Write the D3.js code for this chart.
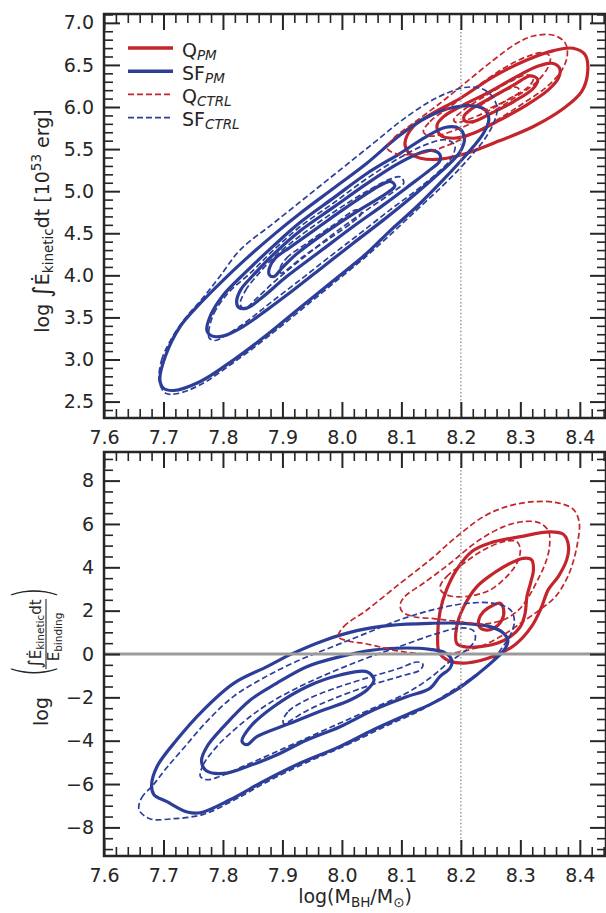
<!DOCTYPE html>
<html>
<head>
<meta charset="utf-8">
<script src="https://cdn.jsdelivr.net/npm/d3@7/dist/d3.min.js"></script>
<style>
  html, body { margin: 0; padding: 0; background: #fff; }
  svg { display: block; font-family: "DejaVu Sans", sans-serif; }
</style>
</head>
<body>
<svg id="fig" width="606" height="913"></svg>
<script>
// ---- axis ranges and ticks ----
const massDomain = [7.6, 8.444];
const massTicks = [7.6, 7.7, 7.8, 7.9, 8.0, 8.1, 8.2, 8.3, 8.4];
const energyDomain = [2.305, 7.105];
const energyTicks = [2.5, 3.0, 3.5, 4.0, 4.5, 5.0, 5.5, 6.0, 6.5, 7.0];
const ratioDomain = [-9.32, 9.32];
const ratioTicks = [-8, -6, -4, -2, 0, 2, 4, 6, 8];
const massSplit = 8.2;
const ratioReference = 0;

// legend entries: [name, subscript]
const sampleNames = [["Q", "PM"], ["SF", "PM"], ["Q", "CTRL"], ["SF", "CTRL"]];

// ---- density contour rings, points are [log M_BH, value] ----
// upper panel: log of integrated kinetic energy
const energyQPM = [
  [[8.106,5.570],[8.120,5.768],[8.148,5.906],[8.199,6.104],[8.255,6.361],[8.311,6.559],[8.356,6.670],[8.389,6.698],[8.409,6.619],[8.413,6.401],[8.403,6.183],[8.373,5.985],[8.322,5.768],[8.266,5.601],[8.210,5.451],[8.165,5.380],[8.132,5.392],[8.112,5.459]],
  [[8.160,5.787],[8.171,5.886],[8.199,6.005],[8.244,6.164],[8.289,6.342],[8.328,6.480],[8.353,6.520],[8.366,6.460],[8.364,6.342],[8.347,6.203],[8.311,6.025],[8.266,5.847],[8.221,5.688],[8.188,5.629],[8.165,5.669]],
  [[8.205,5.886],[8.216,5.966],[8.249,6.104],[8.289,6.262],[8.317,6.369],[8.329,6.330],[8.322,6.223],[8.289,6.065],[8.249,5.918],[8.221,5.827],[8.207,5.835]]
];
const energySFPM = [
  [[7.694,2.759],[7.703,3.036],[7.728,3.392],[7.762,3.669],[7.801,3.947],[7.840,4.204],[7.885,4.481],[7.930,4.738],[7.986,5.035],[8.042,5.332],[8.098,5.669],[8.143,5.878],[8.188,5.997],[8.221,6.013],[8.241,5.966],[8.247,5.847],[8.238,5.688],[8.221,5.530],[8.199,5.352],[8.165,5.095],[8.126,4.818],[8.081,4.529],[8.042,4.263],[7.986,3.939],[7.930,3.618],[7.874,3.293],[7.818,2.996],[7.762,2.739],[7.717,2.632],[7.700,2.660]],
  [[7.773,3.345],[7.779,3.520],[7.800,3.760],[7.840,4.050],[7.885,4.350],[7.930,4.630],[7.986,4.920],[8.042,5.210],[8.098,5.450],[8.140,5.640],[8.175,5.760],[8.198,5.740],[8.206,5.620],[8.199,5.471],[8.182,5.332],[8.154,5.154],[8.115,4.916],[8.070,4.659],[8.019,4.382],[7.969,4.105],[7.919,3.828],[7.874,3.590],[7.834,3.392],[7.801,3.281],[7.781,3.281]],
  [[7.823,3.689],[7.830,3.830],[7.848,3.980],[7.885,4.250],[7.930,4.530],[7.986,4.810],[8.042,5.090],[8.090,5.310],[8.126,5.440],[8.151,5.485],[8.165,5.431],[8.164,5.352],[8.148,5.253],[8.115,5.075],[8.070,4.837],[8.019,4.580],[7.963,4.283],[7.907,3.986],[7.868,3.749],[7.840,3.610],[7.826,3.622]],
  [[7.878,4.085],[7.888,4.204],[7.913,4.334],[7.958,4.560],[8.008,4.810],[8.064,5.067],[8.082,5.115],[8.089,5.063],[8.077,4.984],[8.025,4.758],[7.969,4.493],[7.924,4.255],[7.899,4.085],[7.886,3.986],[7.878,4.006]]
];
const energyQCTRL = [
  [[8.076,5.510],[8.087,5.629],[8.120,5.807],[8.165,6.045],[8.210,6.302],[8.255,6.559],[8.294,6.757],[8.322,6.844],[8.356,6.852],[8.375,6.765],[8.379,6.619],[8.370,6.441],[8.345,6.243],[8.305,6.045],[8.261,5.847],[8.210,5.649],[8.165,5.510],[8.126,5.443],[8.092,5.443]],
  [[8.137,5.708],[8.148,5.827],[8.182,6.005],[8.227,6.243],[8.272,6.460],[8.311,6.599],[8.339,6.646],[8.350,6.599],[8.347,6.480],[8.328,6.302],[8.289,6.104],[8.244,5.906],[8.199,5.748],[8.165,5.669],[8.146,5.657]],
  [[8.188,5.847],[8.205,5.966],[8.244,6.144],[8.283,6.302],[8.311,6.381],[8.322,6.342],[8.314,6.243],[8.283,6.104],[8.244,5.946],[8.210,5.847],[8.193,5.815]],
  [[8.233,6.005],[8.249,6.092],[8.277,6.203],[8.294,6.235],[8.299,6.183],[8.283,6.104],[8.255,6.005],[8.238,5.966]]
];
const energySFCTRL = [
  [[7.693,2.739],[7.697,2.996],[7.714,3.254],[7.739,3.511],[7.765,3.720],[7.795,3.990],[7.829,4.303],[7.885,4.620],[7.941,4.936],[7.997,5.253],[8.053,5.570],[8.098,5.827],[8.143,6.045],[8.176,6.164],[8.205,6.231],[8.233,6.223],[8.252,6.132],[8.261,5.985],[8.255,5.807],[8.241,5.629],[8.221,5.451],[8.196,5.253],[8.165,5.035],[8.126,4.778],[8.087,4.520],[8.042,4.232],[7.986,3.907],[7.930,3.582],[7.874,3.262],[7.818,2.965],[7.762,2.700],[7.722,2.593],[7.703,2.601]],
  [[7.776,3.333],[7.785,3.550],[7.810,3.800],[7.845,4.020],[7.885,4.300],[7.930,4.580],[7.986,4.860],[8.042,5.150],[8.098,5.400],[8.140,5.550],[8.175,5.610],[8.190,5.540],[8.182,5.372],[8.160,5.214],[8.126,5.015],[8.081,4.778],[8.031,4.501],[7.980,4.224],[7.930,3.947],[7.879,3.669],[7.840,3.452],[7.806,3.293],[7.787,3.226],[7.777,3.254]],
  [[7.829,3.650],[7.838,3.820],[7.860,4.020],[7.885,4.210],[7.930,4.470],[7.986,4.750],[8.042,5.000],[8.080,5.140],[8.098,5.170],[8.104,5.100],[8.087,4.996],[8.042,4.778],[7.991,4.521],[7.941,4.243],[7.890,3.947],[7.857,3.729],[7.837,3.610]],
  [[7.896,4.085],[7.907,4.204],[7.941,4.382],[7.986,4.600],[8.025,4.778],[8.033,4.738],[8.019,4.639],[7.980,4.441],[7.935,4.224],[7.907,4.065],[7.897,4.026]]
];

// lower panel: log of kinetic energy over binding energy
const ratioQPM = [
  [[8.161,0.892],[8.165,1.969],[8.176,2.969],[8.193,3.892],[8.219,4.738],[8.249,5.123],[8.300,5.415],[8.350,5.631],[8.373,5.508],[8.381,4.969],[8.378,4.354],[8.364,3.585],[8.347,2.969],[8.335,2.123],[8.319,1.277],[8.291,0.431],[8.255,-0.108],[8.210,-0.415],[8.182,-0.338],[8.164,0.046]],
  [[8.193,0.492],[8.193,1.262],[8.205,2.185],[8.227,3.108],[8.255,3.723],[8.283,4.185],[8.305,4.415],[8.319,4.338],[8.322,3.877],[8.317,3.262],[8.311,2.646],[8.308,1.877],[8.300,1.262],[8.283,0.800],[8.261,0.492],[8.233,0.338],[8.205,0.338]],
  [[8.230,1.569],[8.238,1.954],[8.255,2.262],[8.266,2.338],[8.272,2.031],[8.269,1.569],[8.255,1.185],[8.241,1.108],[8.231,1.262]]
];
const ratioSFPM = [
  [[7.680,-6.062],[7.689,-5.200],[7.722,-3.969],[7.767,-2.585],[7.818,-1.354],[7.874,-0.585],[7.913,-0.031],[7.969,0.615],[8.025,1.077],[8.081,1.323],[8.148,1.415],[8.205,1.415],[8.249,1.262],[8.272,0.954],[8.279,0.615],[8.273,0.185],[8.255,-0.308],[8.227,-0.954],[8.193,-1.646],[8.148,-2.338],[8.109,-2.800],[8.053,-3.492],[7.997,-4.262],[7.924,-5.108],[7.868,-5.877],[7.812,-6.723],[7.762,-7.323],[7.740,-7.292],[7.705,-6.800],[7.684,-6.492]],
  [[7.764,-4.923],[7.773,-4.277],[7.801,-3.354],[7.846,-2.123],[7.890,-1.354],[7.941,-0.585],[7.997,-0.123],[8.053,0.185],[8.109,0.277],[8.148,0.215],[8.174,0.046],[8.185,-0.308],[8.182,-0.646],[8.165,-1.031],[8.148,-1.585],[8.109,-1.969],[8.053,-2.585],[7.997,-3.354],[7.941,-3.969],[7.890,-4.662],[7.840,-5.200],[7.801,-5.508],[7.772,-5.385]],
  [[7.832,-4.031],[7.846,-3.354],[7.885,-2.431],[7.941,-1.508],[7.997,-0.969],[8.042,-0.815],[8.054,-1.185],[8.042,-1.662],[8.014,-2.123],[7.969,-2.585],[7.913,-3.200],[7.857,-3.815],[7.840,-4.185]]
];
const ratioQCTRL = [
  [[7.994,0.800],[8.003,1.262],[8.042,2.031],[8.098,3.262],[8.148,4.338],[8.193,5.415],[8.238,6.338],[8.277,6.800],[8.317,7.015],[8.361,6.985],[8.389,6.677],[8.399,6.062],[8.396,5.108],[8.388,4.185],[8.377,3.415],[8.359,2.646],[8.333,2.046],[8.305,1.508],[8.272,0.892],[8.233,0.354],[8.188,0.046],[8.143,0.000],[8.098,0.123],[8.042,0.462],[8.008,0.615]],
  [[8.098,2.277],[8.106,2.662],[8.137,3.262],[8.182,4.185],[8.227,5.185],[8.272,5.877],[8.305,6.108],[8.331,6.062],[8.347,5.692],[8.349,4.954],[8.342,4.185],[8.328,3.354],[8.314,2.646],[8.297,2.031],[8.272,1.585],[8.238,1.385],[8.193,1.508],[8.154,1.631],[8.120,1.723],[8.101,1.969]],
  [[8.165,3.108],[8.176,3.569],[8.205,4.185],[8.238,4.800],[8.272,5.185],[8.294,5.185],[8.300,4.800],[8.294,4.185],[8.277,3.569],[8.249,2.954],[8.216,2.677],[8.182,2.677],[8.168,2.877]]
];
const ratioSFCTRL = [
  [[7.659,-7.185],[7.663,-6.646],[7.683,-6.031],[7.705,-5.262],[7.734,-4.338],[7.773,-3.108],[7.818,-1.954],[7.868,-1.108],[7.924,-0.338],[7.986,0.354],[8.042,0.969],[8.098,1.585],[8.154,2.046],[8.210,2.338],[8.255,2.338],[8.283,2.046],[8.290,1.538],[8.284,0.923],[8.269,0.277],[8.247,-0.500],[8.216,-1.150],[8.176,-1.850],[8.132,-2.600],[8.076,-3.300],[8.008,-4.200],[7.941,-5.000],[7.874,-5.900],[7.818,-6.750],[7.767,-7.400],[7.717,-7.600],[7.677,-7.600]],
  [[7.762,-5.646],[7.767,-5.108],[7.790,-4.262],[7.829,-3.262],[7.874,-2.338],[7.930,-1.492],[7.986,-0.800],[8.042,-0.185],[8.098,0.354],[8.154,0.892],[8.199,1.200],[8.221,1.077],[8.224,0.662],[8.210,0.200],[8.182,-0.338],[8.148,-1.108],[8.109,-1.800],[8.053,-2.492],[7.997,-3.185],[7.941,-3.877],[7.885,-4.569],[7.834,-5.185],[7.795,-5.646],[7.773,-5.800]],
  [[7.901,-3.077],[7.910,-2.646],[7.941,-2.108],[7.986,-1.600],[8.042,-1.108],[8.098,-0.646],[8.126,-0.369],[8.136,-0.462],[8.132,-0.723],[8.098,-1.031],[8.042,-1.492],[7.986,-2.062],[7.941,-2.615],[7.913,-3.077],[7.903,-3.231]]
];

// ---- drawing ----
const svg = d3.select("#fig");
const ink = "#262626";
const red = "#c3252c", blue = "#2c3e98";
const sampleStyles = [
  { color: red,  width: 3.2, dash: null },
  { color: blue, width: 3.2, dash: null },
  { color: red,  width: 1.7, dash: "6,3" },
  { color: blue, width: 1.7, dash: "6,3" }
];
const frame = { left: 104, right: 606 };
const x = d3.scaleLinear().domain(massDomain).range([frame.left, frame.right]);
const massMinor = d3.range(380, 423).map(i => i / 50).filter(v => !massTicks.some(t => Math.abs(t - v) < 1e-6));

function styleAxis(g, fontSize) {
  g.select(".domain").remove();
  g.attr("font-family", "DejaVu Sans, sans-serif").attr("font-size", fontSize);
  g.selectAll("line").attr("stroke", ink);
  g.selectAll("text").attr("fill", ink);
}

function drawPanel(opts) {
  const { top, bottom, yDomain, yMajor, yMinor, samples, yFormat, zeroLine } = opts;
  const y = d3.scaleLinear().domain(yDomain).range([bottom, top]);
  const g = svg.append("g");
  const clipId = "clip-" + top;
  svg.append("defs").append("clipPath").attr("id", clipId)
    .append("rect").attr("x", frame.left).attr("y", top)
    .attr("width", frame.right - frame.left).attr("height", bottom - top);

  const plot = g.append("g").attr("clip-path", `url(#${clipId})`);
  const ring = d3.line()
    .x(d => x(d[0])).y(d => y(d[1]))
    .curve(d3.curveCatmullRomClosed.alpha(0.5));

  samples.forEach((rings, i) => {
    const s = sampleStyles[i];
    plot.append("g").selectAll("path").data(rings).join("path")
      .attr("d", ring)
      .attr("fill", "none")
      .attr("stroke", s.color)
      .attr("stroke-width", s.width)
      .attr("stroke-linejoin", "round")
      .attr("stroke-dasharray", s.dash);
  });

  if (zeroLine) {
    plot.append("line")
      .attr("x1", frame.left).attr("x2", frame.right)
      .attr("y1", y(ratioReference)).attr("y2", y(ratioReference))
      .attr("stroke", "#9b9b9b").attr("stroke-width", 3);
  }
  plot.append("line")
    .attr("x1", x(massSplit)).attr("x2", x(massSplit))
    .attr("y1", top).attr("y2", bottom)
    .attr("stroke", "#8f8f8f").attr("stroke-width", 1.4)
    .attr("stroke-dasharray", "1.4,2.2");

  // ticks on all four sides, pointing inward
  const majorLen = 16, minorLen = 9;
  const axes = [
    [d3.axisBottom(x).tickValues(massTicks).tickSize(-majorLen).tickPadding(13).tickFormat(d3.format(".1f")), `translate(0,${bottom})`, 2],
    [d3.axisBottom(x).tickValues(massMinor).tickSize(-minorLen).tickFormat(""), `translate(0,${bottom})`, 1.6],
    [d3.axisTop(x).tickValues(massTicks).tickSize(-majorLen).tickFormat(""), `translate(0,${top})`, 2],
    [d3.axisTop(x).tickValues(massMinor).tickSize(-minorLen).tickFormat(""), `translate(0,${top})`, 1.6],
    [d3.axisLeft(y).tickValues(yMajor).tickSize(-majorLen).tickPadding(10).tickFormat(yFormat), `translate(${frame.left},0)`, 2],
    [d3.axisLeft(y).tickValues(yMinor).tickSize(-minorLen).tickFormat(""), `translate(${frame.left},0)`, 1.6],
    [d3.axisRight(y).tickValues(yMajor).tickSize(-majorLen).tickFormat(""), `translate(${frame.right},0)`, 2],
    [d3.axisRight(y).tickValues(yMinor).tickSize(-minorLen).tickFormat(""), `translate(${frame.right},0)`, 1.6]
  ];
  axes.forEach(([axis, tr, w]) => {
    const a = g.append("g").attr("transform", tr).call(axis);
    styleAxis(a, 19);
    a.selectAll("line").attr("stroke-width", w);
  });

  g.append("rect")
    .attr("x", frame.left).attr("y", top)
    .attr("width", frame.right - frame.left).attr("height", bottom - top)
    .attr("fill", "none").attr("stroke", ink).attr("stroke-width", 2.5);
  return y;
}

const energyMinor = d3.range(24, 72).map(i => i / 10)
  .filter(v => v >= energyDomain[0] && v <= energyDomain[1] && !energyTicks.some(t => Math.abs(t - v) < 1e-6));
const ratioMinor = d3.range(-18, 19).map(i => i / 2)
  .filter(v => !ratioTicks.some(t => Math.abs(t - v) < 1e-6));

drawPanel({
  top: 14, bottom: 418, yDomain: energyDomain, yMajor: energyTicks, yMinor: energyMinor,
  samples: [energyQPM, energySFPM, energyQCTRL, energySFCTRL],
  yFormat: d3.format(".1f"), zeroLine: false
});
drawPanel({
  top: 452, bottom: 856, yDomain: ratioDomain, yMajor: ratioTicks, yMinor: ratioMinor,
  samples: [ratioQPM, ratioSFPM, ratioQCTRL, ratioSFCTRL],
  yFormat: d3.format("d"), zeroLine: true
});

// ---- legend ----
const legend = svg.append("g").attr("font-size", 19).attr("fill", ink);
sampleNames.forEach(([name, sub], i) => {
  const s = sampleStyles[i];
  const ly = 48 + i * 23.2;
  legend.append("line")
    .attr("x1", 128).attr("x2", 173).attr("y1", ly).attr("y2", ly)
    .attr("stroke", s.color).attr("stroke-width", s.dash ? 1.9 : 3.5)
    .attr("stroke-dasharray", s.dash);
  const t = legend.append("text").attr("x", 182).attr("y", ly + 8.5);
  t.append("tspan").text(name);
  t.append("tspan").attr("font-size", 13.5).attr("font-style", "italic").attr("dy", 3).text(sub);
});

// ---- axis titles ----
const xt = svg.append("text").attr("x", 355).attr("y", 903)
  .attr("text-anchor", "middle").attr("font-size", 19).attr("fill", ink);
xt.append("tspan").text("log(M");
xt.append("tspan").attr("font-size", 13.5).attr("dy", 3.5).text("BH");
xt.append("tspan").attr("dy", -3.5).text("/M");
xt.append("tspan").attr("font-size", 13.5).attr("dy", 3.5).text("\u2299");
xt.append("tspan").attr("dy", -3.5).text(")");

const yt1 = svg.append("text")
  .attr("transform", "translate(49,221) rotate(-90)")
  .attr("text-anchor", "middle").attr("font-size", 19).attr("fill", ink);
yt1.append("tspan").text("log ");
yt1.append("tspan").attr("font-size", 24).attr("dy", 1).text("\u222B");
yt1.append("tspan").attr("dy", -1).text("\u0116");
yt1.append("tspan").attr("font-size", 13.5).attr("dy", 4).text("kinetic");
yt1.append("tspan").attr("dy", -4).text("dt [10");
yt1.append("tspan").attr("font-size", 13.5).attr("dy", -8).text("53");
yt1.append("tspan").attr("dy", 8).text(" erg]");

// fraction label of the lower panel, written along the rotated axis
const yt2 = svg.append("g").attr("transform", "translate(41,655) rotate(-90)").attr("fill", ink);
yt2.append("text").attr("x", -42).attr("y", 7).attr("text-anchor", "end").attr("font-size", 19).text("log");
yt2.append("text").attr("transform", "translate(-16,8.5) scale(0.62,1.08)").attr("text-anchor", "middle")
  .attr("font-size", 48).attr("font-weight", 200).text("(");
yt2.append("text").attr("transform", "translate(62,8.5) scale(0.62,1.08)").attr("text-anchor", "middle")
  .attr("font-size", 48).attr("font-weight", 200).text(")");
const num = yt2.append("text").attr("x", 21).attr("y", 0).attr("text-anchor", "middle").attr("font-size", 15);
num.append("tspan").attr("font-size", 18).text("\u222B");
num.append("tspan").text("\u0116");
num.append("tspan").attr("font-size", 10.5).attr("dy", 3).text("kinetic");
num.append("tspan").attr("dy", -3).text("dt");
yt2.append("line").attr("x1", -14).attr("x2", 56).attr("y1", 5).attr("y2", 5)
  .attr("stroke", ink).attr("stroke-width", 1.1);
const den = yt2.append("text").attr("x", 18).attr("y", 18).attr("text-anchor", "middle").attr("font-size", 15);
den.append("tspan").text("E");
den.append("tspan").attr("font-size", 10.5).attr("dy", 3).text("binding");
</script>
</body>
</html>
